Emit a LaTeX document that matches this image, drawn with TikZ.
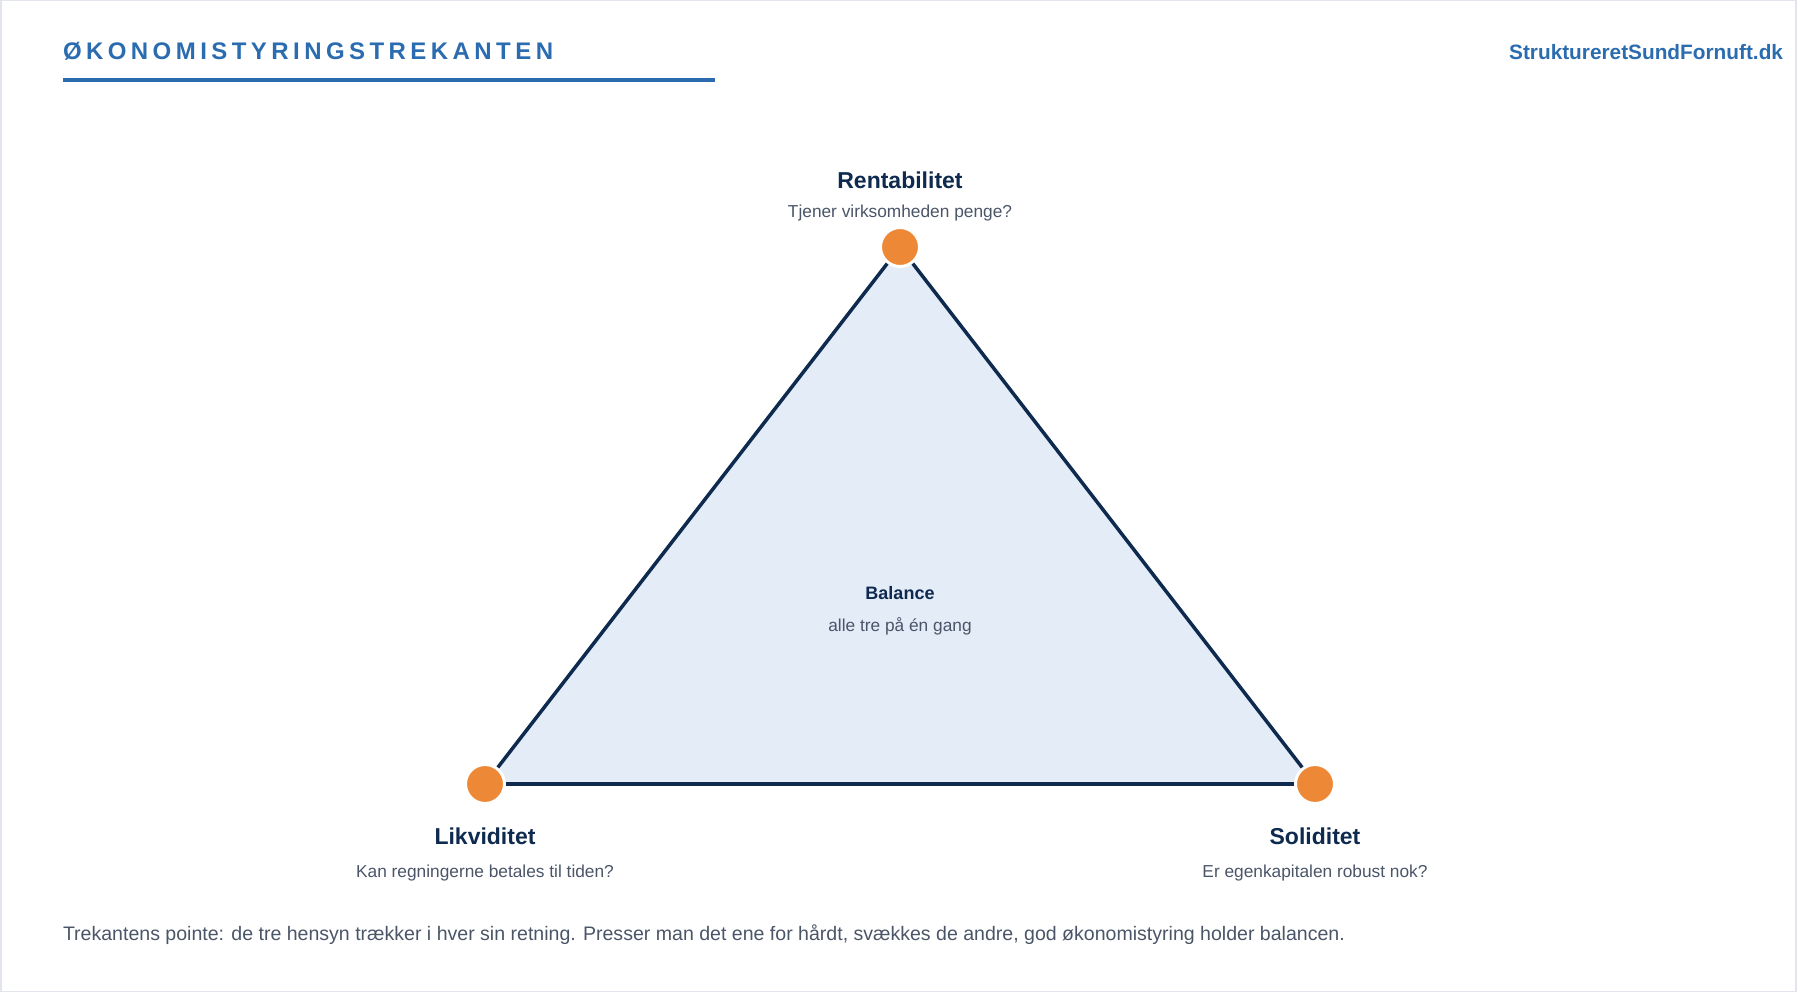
\documentclass[tikz,border=0pt]{standalone}
\usepackage{fontspec}
\setmainfont{Liberation Sans}
\definecolor{titleblue}{HTML}{2B6CB0}
\definecolor{navy}{HTML}{0F2A4F}
\definecolor{bodygray}{HTML}{4A5568}
\definecolor{fillblue}{HTML}{E3ECF7}
\definecolor{dotorange}{HTML}{ED8936}
\definecolor{framegray}{HTML}{E2E6EC}
\tikzset{
  px/.style={inner sep=0pt, outer sep=0pt},
  dot/.style={circle, fill=dotorange, draw=white, line width=3pt, minimum size=39pt, inner sep=0pt},
  edge/.style={draw=navy, line width=3.5pt},
  headlabel/.style={px, anchor=base, text=navy, font=\fontsize{23}{27}\selectfont\bfseries},
  sublabel/.style={px, anchor=base, text=bodygray, font=\fontsize{17.3}{20}\selectfont},
}
\begin{document}
\begin{tikzpicture}[x=1pt,y=-1pt]
\useasboundingbox (0,0) rectangle (1800,992);
\draw[framegray, line width=1.5pt] (0.75,0.75) rectangle (1796,991.25);

% header
\node[px, anchor=base west, text=titleblue, font=\fontsize{24}{28}\selectfont\bfseries\addfontfeature{LetterSpace=18.5}] (title) at (63,60) {ØKONOMISTYRINGSTREKANTEN};
\coordinate (ruleA) at (63,80);
\coordinate (ruleB) at (715,80);
\draw[titleblue, line width=3.5pt] (ruleA) -- (ruleB);
\node[px, anchor=base east, text=titleblue, font=\fontsize{20.8}{24}\selectfont\bfseries] (url) at (1783,60) {StruktureretSundFornuft.dk};

% triangle
\coordinate (pt) at (900,247);
\coordinate (pl) at (485,784);
\coordinate (pr) at (1315,784);
\fill[fillblue] (pt) -- (pl) -- (pr) -- cycle;
\node[dot] (top) at (pt) {};
\node[dot] (left) at (pl) {};
\node[dot] (right) at (pr) {};
\draw[edge] (top) -- (left);
\draw[edge] (left) -- (right);
\draw[edge] (right) -- (top);

% labels
\node[headlabel] (rent) at (900,189) {Rentabilitet};
\node[sublabel] (rentsub) at (900,218) {Tjener virksomheden penge?};
\node[headlabel] (likv) at (485,844) {Likviditet};
\node[sublabel] (likvsub) at (485,877) {Kan regningerne betales til tiden?};
\node[headlabel] (soli) at (1315,844) {Soliditet};
\node[sublabel] (solisub) at (1315,877) {Er egenkapitalen robust nok?};
\node[px, anchor=base, text=navy, font=\fontsize{18}{22}\selectfont\bfseries] (bal) at (900,599.5) {Balance};
\node[sublabel] (balsub) at (900,631.5) {alle tre på én gang};

% footer
\node[px, anchor=base west, text=bodygray, font=\fontsize{19.55}{23}\selectfont] (foot) at (63,940) {Trekantens pointe: de tre hensyn trækker i hver sin retning. Presser man det ene for hårdt, svækkes de andre, god økonomistyring holder balancen.};
\end{tikzpicture}
\end{document}
